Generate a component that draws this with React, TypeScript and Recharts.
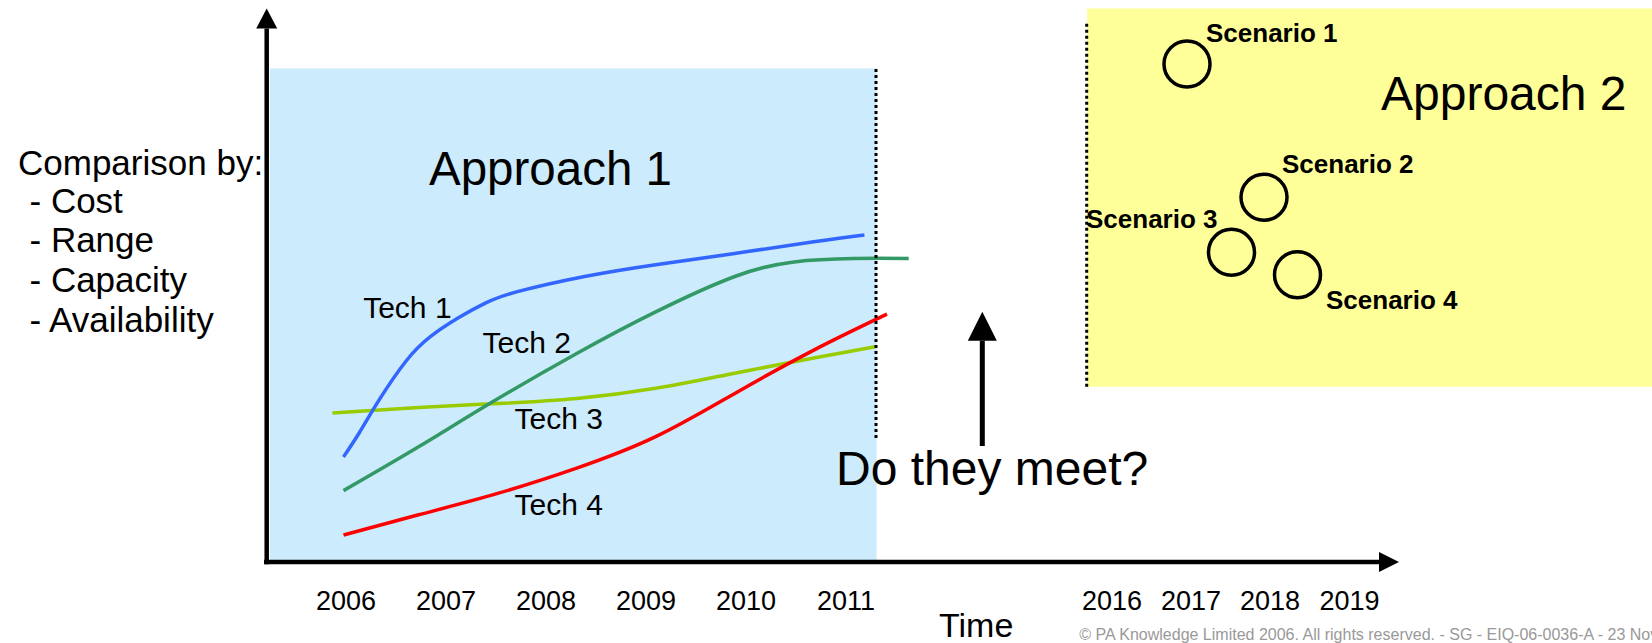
import {
  ComposedChart, Line, Scatter, XAxis, YAxis, ReferenceArea, ReferenceLine, ReferenceDot,
} from 'recharts';

const FONT = "'Liberation Sans', Arial, sans-serif";

const X_DOMAIN: [number, number] = [2002.54, 2019.06];
const Y_DOMAIN: [number, number] = [0, 100];

// time axis is broken after 2011, the later years are squeezed together
const TICK_POS = [2006, 2007, 2008, 2009, 2010, 2011, 2013.66, 2014.45, 2015.24, 2016.035];
const TICK_LABELS = ['2006', '2007', '2008', '2009', '2010', '2011', '2016', '2017', '2018', '2019'];

const TECH1 = [
  { year: 2005.975, value: 18.7 }, { year: 2006.133, value: 23.0 }, { year: 2006.33, value: 28.8 },
  { year: 2006.607, value: 35.9 }, { year: 2006.844, value: 40.1 }, { year: 2007.12, value: 43.4 },
  { year: 2007.398, value: 46.1 }, { year: 2007.714, value: 48.1 }, { year: 2008.386, value: 50.8 },
  { year: 2009.097, value: 52.9 }, { year: 2009.888, value: 54.9 }, { year: 2010.678, value: 57.0 },
  { year: 2011.184, value: 58.2 },
];
const TECH2 = [
  { year: 2005.975, value: 12.7 }, { year: 2006.726, value: 20.5 }, { year: 2007.437, value: 28.2 },
  { year: 2008.307, value: 37.1 }, { year: 2009.097, value: 44.5 }, { year: 2009.888, value: 50.8 },
  { year: 2010.48, value: 53.4 }, { year: 2011.074, value: 54.0 }, { year: 2011.627, value: 54.0 },
];
const TECH3 = [
  { year: 2005.864, value: 26.5 }, { year: 2006.726, value: 27.5 }, { year: 2007.516, value: 28.2 },
  { year: 2008.307, value: 29.1 }, { year: 2009.097, value: 30.9 }, { year: 2009.888, value: 33.6 },
  { year: 2010.678, value: 36.3 }, { year: 2011.29, value: 38.3 },
];
const TECH4 = [
  { year: 2005.975, value: 4.8 }, { year: 2006.726, value: 8.4 }, { year: 2007.516, value: 12.2 },
  { year: 2008.307, value: 16.7 }, { year: 2009.097, value: 22.3 }, { year: 2009.888, value: 30.0 },
  { year: 2010.678, value: 37.7 }, { year: 2011.41, value: 44.1 },
];

const SCENARIOS = [
  { name: 'Scenario 1', year: 2014.41, value: 88.6 },
  { name: 'Scenario 2', year: 2015.18, value: 64.9 },
  { name: 'Scenario 3', year: 2014.855, value: 55.1 },
  { name: 'Scenario 4', year: 2015.515, value: 51.1 },
];

// shaded windows of the two approaches
const APPROACH1_SPAN = { x1: 2005.24, x2: 2011.306, y1: 0, y2: 87.8 };
const APPROACH2_SPAN = { x1: 2013.41, x2: 2019.06, y1: 31.2, y2: 98.5 };

// text notes, anchored in axis units (left edge, baseline)
const NOTES = [
  { text: 'Comparison by:', year: 2002.72, value: 68.9, size: 35 },
  { text: '- Cost', year: 2002.835, value: 62.1, size: 35 },
  { text: '- Range', year: 2002.835, value: 55.1, size: 35 },
  { text: '- Capacity', year: 2002.835, value: 48.0, size: 35 },
  { text: '- Availability', year: 2002.835, value: 41.0, size: 35 },
  { text: 'Approach 1', year: 2006.83, value: 67.1, size: 47.5 },
  { text: 'Approach 2', year: 2016.35, value: 80.4, size: 48 },
  { text: 'Tech 1', year: 2006.172, value: 43.4, size: 30 },
  { text: 'Tech 2', year: 2007.365, value: 37.1, size: 30 },
  { text: 'Tech 3', year: 2007.685, value: 23.6, size: 30 },
  { text: 'Tech 4', year: 2007.685, value: 8.4, size: 30 },
  { text: 'Do they meet?', year: 2010.9, value: 13.7, size: 48 },
  { text: 'Time', year: 2011.93, value: -13.3, size: 34 },
  { text: 'Scenario 1', year: 2014.6, value: 92.6, size: 26, bold: true },
  { text: 'Scenario 2', year: 2015.36, value: 69.2, size: 26, bold: true },
  { text: 'Scenario 3', year: 2013.40, value: 59.4, size: 26, bold: true },
  { text: 'Scenario 4', year: 2015.8, value: 45.1, size: 26, bold: true },
  {
    text: '\u00A9 PA Knowledge Limited 2006. All rights reserved. - SG - EIQ-06-0036-A - 23 November 2006',
    year: 2013.333, value: -13.9, size: 16, color: '#999999',
  },
];

function YearTick({ x, y, payload }: any) {
  const i = TICK_POS.indexOf(payload.value);
  return (
    <text x={x} y={y + 48} textAnchor="middle" fontSize={27} fontFamily={FONT} fill="#000">
      {TICK_LABELS[i]}
    </text>
  );
}

function arrowShape(width: number, head: number, half: number) {
  return (p: any) => {
    const { x1, y1, x2, y2 } = p;
    const dx = x2 - x1;
    const dy = y2 - y1;
    const len = Math.hypot(dx, dy) || 1;
    const ux = dx / len;
    const uy = dy / len;
    const bx = x2 - ux * head;
    const by = y2 - uy * head;
    const nx = -uy * half;
    const ny = ux * half;
    return (
      <g>
        <line x1={x1} y1={y1} x2={bx} y2={by} stroke="#000" strokeWidth={width} />
        <polygon points={`${x2},${y2} ${bx + nx},${by + ny} ${bx - nx},${by - ny}`} fill="#000" />
      </g>
    );
  };
}

function Ring({ cx, cy }: any) {
  return <circle cx={cx} cy={cy} r={23} fill="none" stroke="#000" strokeWidth={3.5} />;
}

export default function App() {
  return (
    <div style={{ position: 'absolute', left: 0, top: 0, width: 1652, height: 643, background: '#fff', overflow: 'hidden' }}>
      <ComposedChart width={1652} height={643} margin={{ top: 0, right: 0, bottom: 0, left: 0 }}>
        <XAxis
          dataKey="year" type="number" domain={X_DOMAIN} allowDataOverflow ticks={TICK_POS} interval={0}
          height={81} axisLine={false} tickLine={false} tickSize={0} tickMargin={0} tick={YearTick}
        />
        <YAxis dataKey="value" type="number" domain={Y_DOMAIN} allowDataOverflow hide />

        <ReferenceArea {...APPROACH1_SPAN} fill="#CCEBFD" fillOpacity={1} stroke="none" ifOverflow="visible" />
        <ReferenceArea {...APPROACH2_SPAN} fill="#FFFF99" fillOpacity={1} stroke="none" ifOverflow="visible" />

        <Line data={TECH3} dataKey="value" type="natural" stroke="#99CC00" strokeWidth={3.5} dot={false} activeDot={false} isAnimationActive={false} />
        <Line data={TECH4} dataKey="value" type="natural" stroke="#FF0000" strokeWidth={3.5} dot={false} activeDot={false} isAnimationActive={false} />
        <Line data={TECH2} dataKey="value" type="natural" stroke="#339966" strokeWidth={3.5} dot={false} activeDot={false} isAnimationActive={false} />
        <Line data={TECH1} dataKey="value" type="natural" stroke="#3366FF" strokeWidth={3.5} dot={false} activeDot={false} isAnimationActive={false} />

        <Scatter data={SCENARIOS} dataKey="value" shape={Ring} isAnimationActive={false} />

        <ReferenceLine
          segment={[{ x: 2011.3, y: 22.06 }, { x: 2011.3, y: 87.8 }]}
          stroke="#000" strokeWidth={3} strokeDasharray="3 3" ifOverflow="visible"
        />
        <ReferenceLine
          segment={[{ x: 2013.407, y: 31.2 }, { x: 2013.407, y: 96.0 }]}
          stroke="#000" strokeWidth={3} strokeDasharray="3 3" ifOverflow="visible"
        />

        {/* axes with arrow heads */}
        <ReferenceLine
          segment={[{ x: 2005.207, y: -0.4 }, { x: 2005.207, y: 98.5 }]}
          ifOverflow="visible" shape={arrowShape(4.5, 20, 10.5)}
        />
        <ReferenceLine
          segment={[{ x: 2005.18, y: 0 }, { x: 2016.53, y: 0 }]}
          ifOverflow="visible" shape={arrowShape(4.5, 20, 10)}
        />
        <ReferenceLine
          segment={[{ x: 2012.363, y: 20.64 }, { x: 2012.363, y: 44.54 }]}
          ifOverflow="visible" shape={arrowShape(5, 29, 14.5)}
        />

        {NOTES.map((n) => (
          <ReferenceDot
            key={n.text} x={n.year} y={n.value} r={0} ifOverflow="visible"
            shape={(p: any) => (
              <text
                x={p.cx} y={p.cy} fontSize={n.size} fontFamily={FONT}
                fontWeight={n.bold ? 'bold' : 'normal'} fill={n.color || '#000'}
              >
                {n.text}
              </text>
            )}
          />
        ))}
      </ComposedChart>
    </div>
  );
}
